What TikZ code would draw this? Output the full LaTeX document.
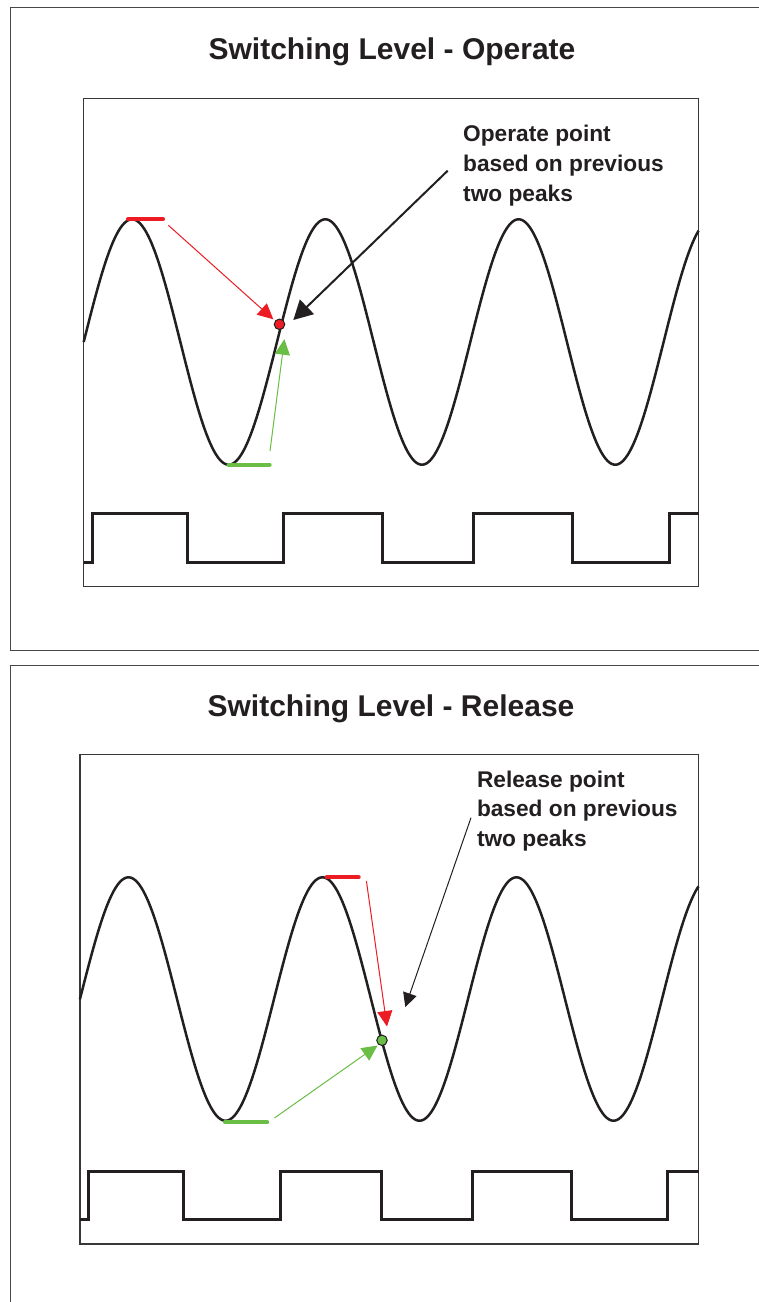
\documentclass[tikz,border=0pt]{standalone}
\usepackage{fontspec}
\setmainfont{Liberation Sans}
\usetikzlibrary{arrows.meta}
\definecolor{ink}{RGB}{35,31,32}
\definecolor{myred}{RGB}{237,28,36}
\definecolor{mygreen}{RGB}{106,189,69}
\begin{document}
\begin{tikzpicture}[x=1pt,y=-1pt,
  frame/.style={draw=black!72, line width=1pt},
  plotbox/.style={draw=black!78, line width=1.2pt},
  wave/.style={draw=ink, line width=2.5pt, line join=round},
  squarewave/.style={draw=ink, line width=3pt, line join=miter},
  titletext/.style={font=\fontsize{30}{36}\selectfont\bfseries, text=ink, inner sep=0pt, anchor=base},
  notetext/.style={font=\fontsize{22.7}{30}\selectfont\bfseries, text=ink, inner sep=0pt, anchor=base west},
  levelbar/.style={line width=4pt, line cap=round},
  thinarrow/.style={line width=1pt, -{Triangle[length=15.5pt,width=15pt]}},
  bigarrow/.style={draw=ink, line width=2pt, -{Triangle[length=19pt,width=20pt]}},
  dotmark/.style={circle, draw=ink, line width=1pt, minimum size=10.5pt, inner sep=0pt}]
\useasboundingbox (0,0) rectangle (759,1302);
\clip (0,0) rectangle (759,1302);
\fill[white] (0,0) rectangle (759,1302);

% ---------------- Top panel ----------------
\draw[frame] (10,7.3) rectangle (800,650);
\node[titletext] (toptitle) at (392,59.5) {Switching Level - Operate};
\draw[plotbox] (83.7,98.3) rectangle (698.5,586.7);
\draw[wave] plot[domain=83.7:698.5, samples=400, smooth] (\x, {342 - 122.7*sin(1.86239*(\x-83.7))});
\draw[squarewave] (83.7,562.3) -- (92,562.3) -- (92,513.3) -- (187.3,513.3) -- (187.3,562.3)
  -- (283.6,562.3) -- (283.6,513.3) -- (382.4,513.3) -- (382.4,562.3) -- (473.4,562.3)
  -- (473.4,513.3) -- (572.6,513.3) -- (572.6,562.3) -- (669,562.3) -- (669,513.3) -- (698.5,513.3);
\coordinate (rbarA) at (128,219.3);
\coordinate (rbarB) at (163,219.3);
\coordinate (gbarA) at (228.5,464.7);
\coordinate (gbarB) at (269.6,464.7);
\draw[levelbar, myred] (rbarA) -- (rbarB);
\draw[levelbar, mygreen] (gbarA) -- (gbarB);
\node[dotmark, fill=myred] (opdot) at (279.5,324.3) {};
\node[notetext] (opnote) at (463,141.7) {\begin{tabular}[t]{@{}l@{}}Operate point\\based on previous\\two peaks\end{tabular}};
\coordinate (redstartT) at (168.4,225.3);
\coordinate (redtipT) at (273.3,319.3);
\coordinate (greenstartT) at (270,451);
\coordinate (greentipT) at (284.4,339.2);
\coordinate (blackstartT) at (447.7,170.7);
\coordinate (blacktipT) at (293.3,320);
\draw[thinarrow, myred] (redstartT) -- (redtipT);
\draw[thinarrow, mygreen] (greenstartT) -- (greentipT);
\draw[bigarrow] (blackstartT) -- (blacktipT);

% ---------------- Bottom panel ----------------
\draw[frame] (10,665.7) rectangle (800,1330);
\node[titletext] (bottitle) at (391,716) {Switching Level - Release};
\draw[plotbox] (79.9,754.3) rectangle (698.5,1244);
\draw[wave] plot[domain=79.9:698.5, samples=400, smooth] (\x, {999 - 121.7*sin(1.85567*(\x-80))});
\draw[squarewave] (79.9,1219.3) -- (88.1,1219.3) -- (88.1,1171) -- (183,1171) -- (183,1219.3)
  -- (280.2,1219.3) -- (280.2,1171) -- (381,1171) -- (381,1219.3) -- (472.4,1219.3)
  -- (472.4,1171) -- (571.6,1171) -- (571.6,1219.3) -- (667.5,1219.3) -- (667.5,1171) -- (698.5,1171);
\coordinate (rbarC) at (326.7,877.3);
\coordinate (rbarD) at (358.7,877.3);
\coordinate (gbarC) at (225,1122.3);
\coordinate (gbarD) at (267.2,1122.3);
\draw[levelbar, myred] (rbarC) -- (rbarD);
\draw[levelbar, mygreen] (gbarC) -- (gbarD);
\node[dotmark, fill=mygreen] (reldot) at (382,1040.3) {};
\node[notetext] (relnote) at (476.8,787.3) {\fontsize{22.7}{29.4}\selectfont\begin{tabular}[t]{@{}l@{}}Release point\\based on previous\\two peaks\end{tabular}};
\coordinate (redstartB) at (366.4,881);
\coordinate (redtipB) at (387,1026.5);
\coordinate (greenstartB) at (274.4,1118);
\coordinate (greentipB) at (377.5,1045.5);
\coordinate (blackstartB) at (471,817.7);
\coordinate (blacktipB) at (405.3,1007);
\draw[thinarrow, myred] (redstartB) -- (redtipB);
\draw[thinarrow, mygreen] (greenstartB) -- (greentipB);
\draw[ink, line width=1pt, -{Triangle[length=14pt,width=14pt]}] (blackstartB) -- (blacktipB);
\end{tikzpicture}
\end{document}
